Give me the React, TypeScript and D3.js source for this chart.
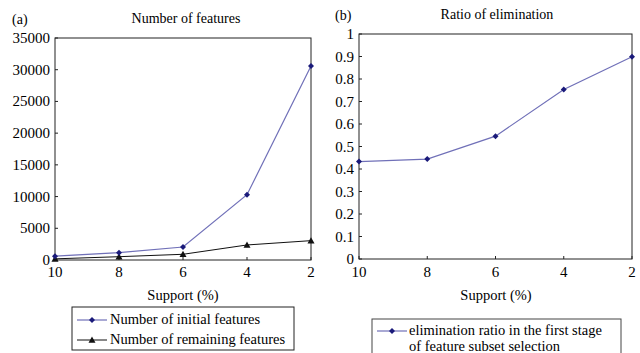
import React from "react";
import * as d3 from "d3";

const supports = [10, 8, 6, 4, 2];
const initialFeatures = [600, 1150, 2050, 10300, 30600];
const remainingFeatures = [180, 520, 900, 2370, 3050];
const eliminationRatio = [0.433, 0.444, 0.546, 0.753, 0.899];
const leftYTicks = [0, 5000, 10000, 15000, 20000, 25000, 30000, 35000];
const rightYTicks = [0, 0.1, 0.2, 0.3, 0.4, 0.5, 0.6, 0.7, 0.8, 0.9, 1];

const FONT = "'Liberation Serif', 'DejaVu Serif', serif";
const BLUE_LINE = "#7070b8";
const BLUE_MARK = "#1a1a7a";

function Diamond({ x, y, c }: { x: number; y: number; c: string }) {
  const r = 3;
  return <path d={`M${x},${y - r}L${x + r},${y}L${x},${y + r}L${x - r},${y}Z`} fill={c} />;
}
function Tri({ x, y, c }: { x: number; y: number; c: string }) {
  const r = 3.5;
  return <path d={`M${x},${y - r}L${x + r},${y + r * 0.8}L${x - r},${y + r * 0.8}Z`} fill={c} />;
}

export default function App() {
  const lx = d3.scaleLinear().domain([10, 2]).range([55, 311]);
  const ly = d3.scaleLinear().domain([0, 35000]).range([260, 38]);
  const rx = d3.scaleLinear().domain([10, 2]).range([359, 632]);
  const ry = d3.scaleLinear().domain([0, 1]).range([259, 34]);

  const lineL = d3.line<number>().x((_, i) => lx(supports[i])).y((d) => ly(d));
  const lineR = d3.line<number>().x((_, i) => rx(supports[i])).y((d) => ry(d));

  return (
    <svg width={640} height={353} style={{ position: "absolute", left: 0, top: 0, background: "#fff", fontFamily: FONT }}>
      <rect width={640} height={353} fill="#fff" />
      {/* LEFT PANEL */}
      <text x={12} y={24} fontSize={14}>(a)</text>
      <text x={186} y={23} fontSize={14} textAnchor="middle">Number of features</text>
      <rect x={lx(10)} y={ly(35000)} width={lx(2) - lx(10)} height={ly(0) - ly(35000)} fill="none" stroke="#222" strokeWidth={1} />
      {leftYTicks.map((t) => (
        <g key={t}>
          <line x1={lx(10)} x2={lx(10) + 3} y1={ly(t)} y2={ly(t)} stroke="#222" />
          <text x={50} y={ly(t) + 5} fontSize={15} textAnchor="end">{t}</text>
        </g>
      ))}
      {supports.map((s) => (
        <g key={s}>
          <line x1={lx(s)} x2={lx(s)} y1={ly(0)} y2={ly(0) - 3} stroke="#222" />
          <text x={lx(s)} y={277} fontSize={15} textAnchor="middle">{s}</text>
        </g>
      ))}
      <text x={183} y={300} fontSize={14.5} textAnchor="middle">Support (%)</text>
      <path d={lineL(remainingFeatures) || ""} fill="none" stroke="#111" strokeWidth={1} />
      <path d={lineL(initialFeatures) || ""} fill="none" stroke={BLUE_LINE} strokeWidth={1.2} />
      {remainingFeatures.map((v, i) => <Tri key={"r" + i} x={lx(supports[i])} y={ly(v)} c="#111" />)}
      {initialFeatures.map((v, i) => <Diamond key={"i" + i} x={lx(supports[i])} y={ly(v)} c={BLUE_MARK} />)}
      <rect x={72} y={307} width={222} height={43} fill="#fff" stroke="#222" strokeWidth={1} />
      <line x1={77} x2={107} y1={320} y2={320} stroke={BLUE_LINE} strokeWidth={1.2} />
      <Diamond x={92} y={320} c={BLUE_MARK} />
      <text x={110} y={324} fontSize={14.5}>Number of initial features</text>
      <line x1={77} x2={107} y1={340} y2={340} stroke="#111" />
      <Tri x={92} y={340} c="#111" />
      <text x={110} y={344} fontSize={14.5}>Number of remaining features</text>

      {/* RIGHT PANEL */}
      <text x={335} y={20} fontSize={14}>(b)</text>
      <text x={497} y={19} fontSize={14} textAnchor="middle">Ratio of elimination</text>
      <rect x={rx(10)} y={ry(1)} width={rx(2) - rx(10)} height={ry(0) - ry(1)} fill="none" stroke="#222" strokeWidth={1} />
      {rightYTicks.map((t) => (
        <g key={t}>
          <line x1={rx(10)} x2={rx(10) + 3} y1={ry(t)} y2={ry(t)} stroke="#222" />
          <text x={354} y={ry(t) + 5} fontSize={15} textAnchor="end">{String(+t.toFixed(1))}</text>
        </g>
      ))}
      {supports.map((s) => (
        <g key={s}>
          <line x1={rx(s)} x2={rx(s)} y1={ry(0)} y2={ry(0) - 3} stroke="#222" />
          <text x={rx(s)} y={277} fontSize={15} textAnchor="middle">{s}</text>
        </g>
      ))}
      <text x={496} y={300} fontSize={14.5} textAnchor="middle">Support (%)</text>
      <path d={lineR(eliminationRatio) || ""} fill="none" stroke={BLUE_LINE} strokeWidth={1.2} />
      {eliminationRatio.map((v, i) => <Diamond key={"e" + i} x={rx(supports[i])} y={ry(v)} c={BLUE_MARK} />)}
      <rect x={372} y={319} width={249} height={40} fill="#fff" stroke="#444" strokeWidth={1} />
      <line x1={377} x2={407} y1={331} y2={331} stroke={BLUE_LINE} strokeWidth={1.2} />
      <Diamond x={392} y={331} c={BLUE_MARK} />
      <text x={409} y={335} fontSize={14.5}>elimination ratio in the first stage</text>
      <text x={409} y={351} fontSize={14.5}>of feature subset selection</text>
    </svg>
  );
}
